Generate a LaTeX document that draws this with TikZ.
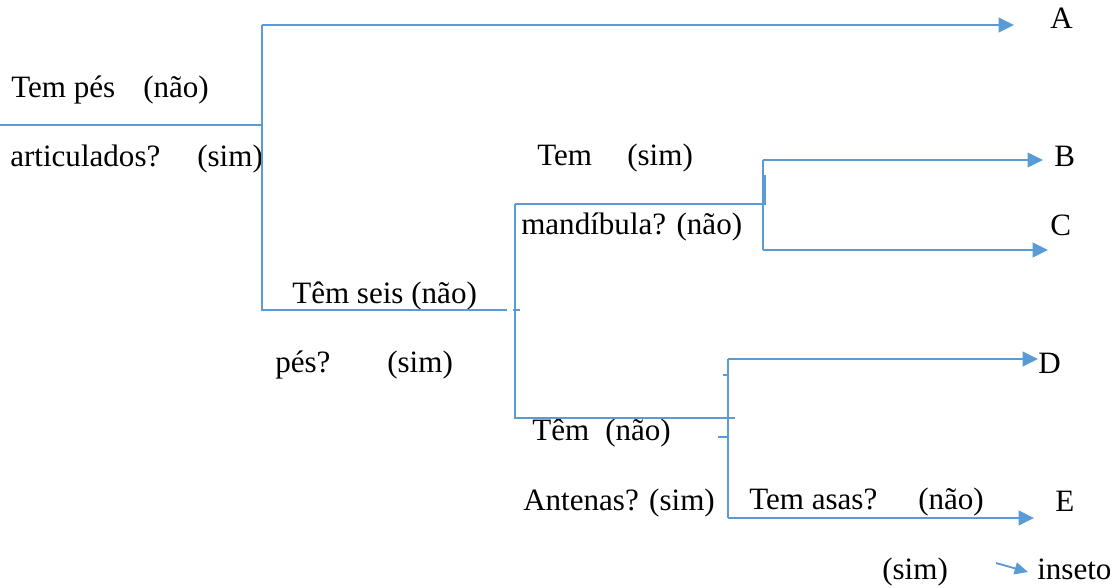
\documentclass[tikz,border=0pt]{standalone}
\usepackage{fontspec}
\setmainfont{Liberation Serif}
\usetikzlibrary{arrows.meta}
\definecolor{lblue}{HTML}{5B9BD5}
\begin{document}
\begin{tikzpicture}[x=0.75pt,y=-0.75pt,
  ln/.style={draw=lblue,line width=1.6pt},
  arr/.style={ln,-{Triangle[length=11.5pt,width=11pt]}},
  smallarr/.style={ln,line width=1.4pt,-{Triangle[length=10pt,width=9pt]}},
  txt/.style={anchor=base west,inner sep=0pt,font=\fontsize{23.3}{28}\selectfont},
]
\useasboundingbox (0,0) rectangle (1119,587);
% texts
\node[txt] (t1a) at (11,97) {Tem pés};
\node[txt] (t1b) at (143,97) {(não)};
\node[txt] (t2a) at (10,166) {articulados?};
\node[txt] (t2b) at (197,166) {(sim)};
\node[txt] (t3a) at (537,165) {Tem};
\node[txt] (t3b) at (627,165) {(sim)};
\node[txt] (t4) at (521,234) {mandíbula? (não)};
\node[txt] (t5) at (292,303) {Têm seis (não)};
\node[txt] (t6a) at (275,372) {pés?};
\node[txt] (t6b) at (387,372) {(sim)};
\node[txt] (t7a) at (532,440) {Têm};
\node[txt] (t7b) at (605,440) {(não)};
\node[txt] (t8) at (523,510) {Antenas? (sim)};
\node[txt] (t9a) at (749,509) {Tem asas?};
\node[txt] (t9b) at (918,509) {(não)};
\node[txt] (t10) at (882,579) {(sim)};
\node[txt] (ins) at (1037,579) {inseto};
\node[txt] (A) at (1050,28) {A};
\node[txt] (B) at (1054,166) {B};
\node[txt] (C) at (1050,235) {C};
\node[txt] (D) at (1038,373) {D};
\node[txt] (E) at (1055,511) {E};
% junction coordinates
\coordinate (s0) at (0,125);
\coordinate (j1) at (262,125);
\coordinate (j1t) at (262,25);
\coordinate (j1b) at (262,310);
\coordinate (h2e) at (507,310);
\coordinate (j2t) at (515,204);
\coordinate (j2b) at (515,418);
\coordinate (j3) at (763,204);
\coordinate (j3t) at (763,160);
\coordinate (j3b) at (763,250);
\coordinate (h4e) at (735,418);
\coordinate (j4t) at (728,359);
\coordinate (j4b) at (728,518);
\coordinate (pA) at (1014,25);
\coordinate (pB) at (1043,160);
\coordinate (pC) at (1048,250);
\coordinate (pD) at (1038,359);
\coordinate (pE) at (1034,518);
\coordinate (sa) at (996,563);
\coordinate (sb) at (1028,572);
% connectors
\draw[ln] (s0) -- (j1);
\draw[ln] (j1t) -- (j1b) -- (h2e);
\draw[ln] (513,310) -- (520,310);
\draw[ln] (j2t) -- (j2b) -- (h4e);
\draw[ln] (j2t) -- (j3);
\draw[ln] (765,175) -- (765,205);
\draw[ln] (j3t) -- (j3b);
\draw[ln] (723,375) -- (728,375);
\draw[ln] (718,437) -- (728,437);
\draw[ln] (j4t) -- (j4b);
\draw[arr] (j1t) -- (pA);
\draw[arr] (j3t) -- (pB);
\draw[arr] (j3b) -- (pC);
\draw[arr] (j4t) -- (pD);
\draw[arr] (j4b) -- (pE);
\draw[smallarr] (sa) -- (sb);
\end{tikzpicture}
\end{document}
